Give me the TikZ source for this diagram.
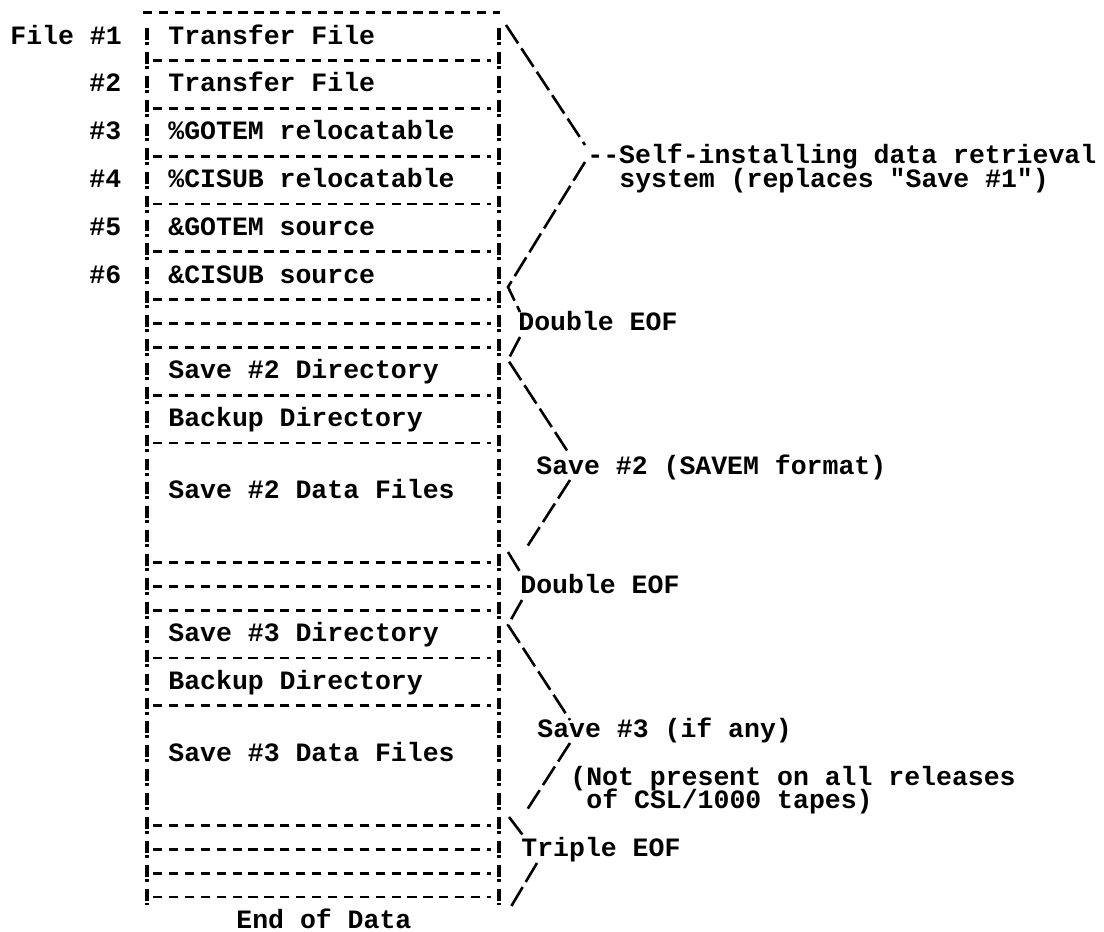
\documentclass[tikz,border=0pt]{standalone}
\usepackage{fontspec}
\setmonofont{Liberation Mono}
\usepackage{tikz}
\usetikzlibrary{calc}

\begin{document}
\begin{tikzpicture}[x=0.5pt, y=-0.5pt,
	declare function={row(\k)=12.7+23.9*\k; base(\k)=20.2+23.9*\k;},
	txt/.style={inner sep=0pt, anchor=base west, font=\ttfamily\bfseries\fontsize{13.25}{14}\selectfont},
	wall/.style={line width=1.9pt, dash pattern=on 5.9pt off 1.1pt on 1.5pt off 3.45pt},
	rule/.style={line width=1.4pt, dash pattern=on 4.6pt off 3.35pt},
	brace/.style={line width=1.3pt, dash pattern=on 11pt off 3pt}]
	\useasboundingbox (0,0) rectangle (1104,932);
	\node[txt] (file1) at (10,{base(1)}) {File \#1};
	\node[txt] (file2) at (89,{base(3)}) {\#2};
	\node[txt] (file3) at (89,{base(5)}) {\#3};
	\node[txt] (file4) at (89,{base(7)}) {\#4};
	\node[txt] (file5) at (89,{base(9)}) {\#5};
	\node[txt] (file6) at (89,{base(11)}) {\#6};
	\node[txt] (xfer1) at (168,{base(1)}) {Transfer File};
	\node[txt] (xfer2) at (168,{base(3)}) {Transfer File};
	\node[txt] (gorel) at (168,{base(5)}) {\%GOTEM relocatable};
	\node[txt] (cirel) at (168,{base(7)}) {\%CISUB relocatable};
	\node[txt] (gosrc) at (168,{base(9)}) {\&GOTEM source};
	\node[txt] (cisrc) at (168,{base(11)}) {\&CISUB source};
	\node[txt] (dir2) at (168,{base(15)}) {Save \#2 Directory};
	\node[txt] (bak2) at (168,{base(17)}) {Backup Directory};
	\node[txt] (data2) at (168,{base(20)}) {Save \#2 Data Files};
	\node[txt] (dir3) at (168,{base(26)}) {Save \#3 Directory};
	\node[txt] (bak3) at (168,{base(28)}) {Backup Directory};
	\node[txt] (data3) at (168,{base(31)}) {Save \#3 Data Files};
	\node[txt] (end) at (236,{base(38)}) {End of Data};
	\node[txt] (self) at (587,{base(6)}) {-{}-Self-installing data retrieval};
	\node[txt] (self2) at (619,{base(7)}) {system (replaces "Save \#1")};
	\node[txt] (eof1) at (518,{base(13)}) {Double EOF};
	\node[txt] (save2) at (536,{base(19)}) {Save \#2 (SAVEM format)};
	\node[txt] (eof2) at (520,{base(24)}) {Double EOF};
	\node[txt] (save3) at (537,{base(30)}) {Save \#3 (if any)};
	\node[txt] (notp) at (570,{base(32)}) {(Not present on all releases};
	\node[txt] (notp2) at (586,{base(33)}) {of CSL/1000 tapes)};
	\node[txt] (eof3) at (521,{base(35)}) {Triple EOF};
	\draw[rule] (143,{row(0)}) -- (500,{row(0)});
	\foreach \k in {2,4,6,8,10,12,13,14,16,18,23,24,25,27,29,34,35,36,37}
		\draw[rule] (153,{row(\k)}) -- (491,{row(\k)});
	\draw[wall] (147,{row(1)-8.3}) -- (147,{row(37)+8.3});
	\draw[wall] (499,{row(1)-8.3}) -- (499,{row(37)+8.3});
	\coordinate (s1) at (506,25);
	\coordinate (s2) at (585,145);
	\coordinate (s3) at (585,162);
	\coordinate (s4) at (508,287);
	\coordinate (s5) at (520,312);
	\coordinate (d1) at (520,337);
	\coordinate (d2) at (508,360);
	\coordinate (d3) at (570,455);
	\coordinate (v1) at (570,480);
	\coordinate (v2) at (525,550);
	\coordinate (v3) at (508,552);
	\coordinate (v4) at (522,575);
	\coordinate (e1) at (522,600);
	\coordinate (e2) at (508,625);
	\coordinate (e3) at (570,720);
	\coordinate (w1) at (570,743);
	\coordinate (w2) at (525,813);
	\coordinate (w3) at (509,817);
	\coordinate (w4) at (525,838);
	\coordinate (t1) at (537,863);
	\coordinate (t2) at (509,910);
	\draw[brace] (s1) -- (s2);
	\draw[brace] (s3) -- (s4) -- (s5);
	\draw[brace] (d1) -- (d2) -- (d3);
	\draw[brace] (v1) -- (v2);
	\draw[brace] (v3) -- (v4);
	\draw[brace] (e1) -- (e2) -- (e3);
	\draw[brace] (w1) -- (w2);
	\draw[brace] (w3) -- (w4);
	\draw[brace] (t1) -- (t2);
\end{tikzpicture}
\end{document}
